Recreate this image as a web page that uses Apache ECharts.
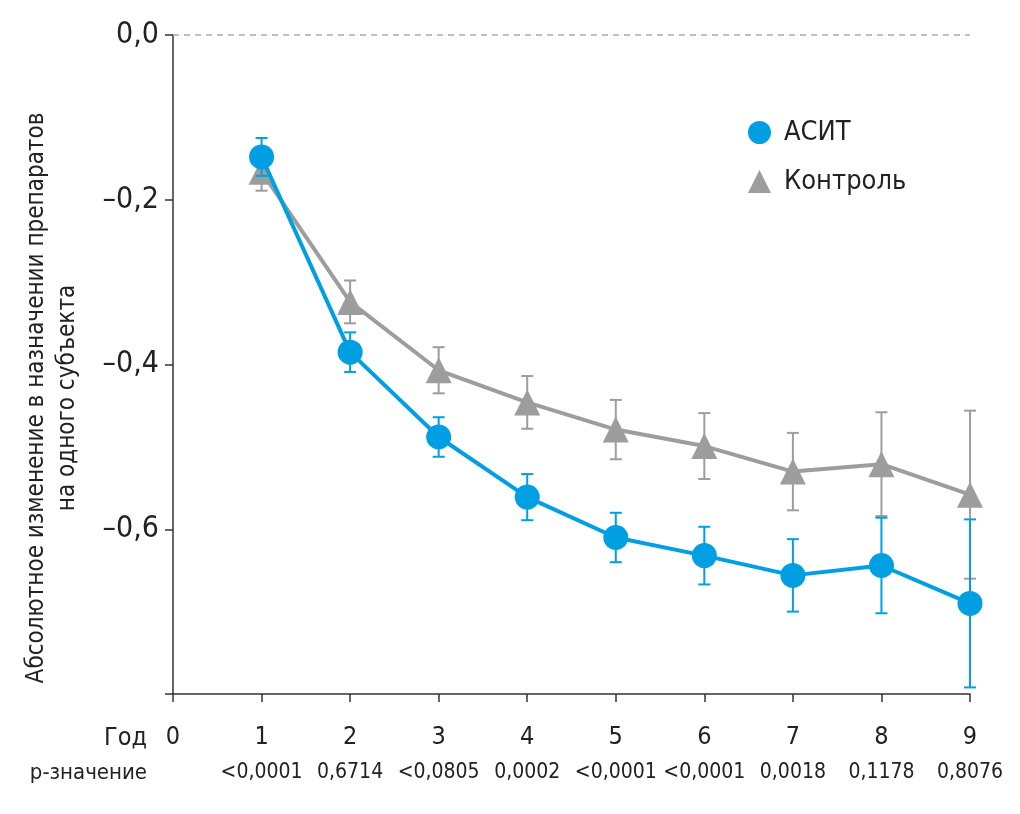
<!DOCTYPE html>
<html>
<head>
<meta charset="utf-8">
<script src="https://cdn.jsdelivr.net/npm/echarts@6/dist/echarts.min.js"></script>
<style>html,body{margin:0;padding:0;background:#fff;}#c{width:1020px;height:814px;}</style>
</head>
<body>
<div id="c"></div>
<script>
var years = [1, 2, 3, 4, 5, 6, 7, 8, 9];
var acit = [-0.148, -0.385, -0.488, -0.561, -0.610, -0.632, -0.656, -0.644, -0.690];
var acitErr = [0.023, 0.024, 0.024, 0.028, 0.030, 0.035, 0.044, 0.058, 0.102];
var control = [-0.166, -0.324, -0.407, -0.446, -0.479, -0.499, -0.530, -0.521, -0.558];
var controlErr = [0.023, 0.026, 0.028, 0.032, 0.036, 0.040, 0.047, 0.063, 0.102];
var pValues = ['<0,0001', '0,6714', '<0,0805', '0,0002', '<0,0001', '<0,0001', '0,0018', '0,1178', '0,8076'];
var yTitle = 'Абсолютное изменение в назначении препаратов\nна одного субъекта';

var FONT = "'Liberation Sans Narrow', 'DejaVu Sans Condensed', 'Roboto', sans-serif";
var BLUE = '#009fe3';
var GRAY = '#9d9d9d';
var TEXT = '#222';

function pts(vals) { return years.map(function (y, i) { return [y, vals[i]]; }); }
function errs(vals, e) { return years.map(function (y, i) { return [y, vals[i] - e[i], vals[i] + e[i]]; }); }

function errRender(color) {
  return function (params, api) {
    var x = api.value(0);
    var lo = api.coord([x, api.value(1)]);
    var hi = api.coord([x, api.value(2)]);
    var hw = 6;
    var st = { stroke: color, lineWidth: 2 };
    return {
      type: 'group',
      children: [
        { type: 'line', shape: { x1: lo[0], y1: lo[1], x2: hi[0], y2: hi[1] }, style: st },
        { type: 'line', shape: { x1: lo[0] - hw, y1: lo[1], x2: lo[0] + hw, y2: lo[1] }, style: st },
        { type: 'line', shape: { x1: hi[0] - hw, y1: hi[1], x2: hi[0] + hw, y2: hi[1] }, style: st }
      ]
    };
  };
}

var chart = echarts.init(document.getElementById('c'));
chart.setOption({
  animation: false,
  textStyle: { fontFamily: FONT },
  grid: { left: 173, right: 50, top: 35, bottom: 120, containLabel: false },
  legend: {
    orient: 'vertical',
    left: 743,
    top: 114,
    itemWidth: 23,
    itemHeight: 23,
    itemGap: 22,
    textStyle: { fontFamily: FONT, fontSize: 27, color: TEXT, padding: [0, 0, 0, 8] },
    data: [{ name: 'АСИТ', icon: 'circle' }, { name: 'Контроль', icon: 'triangle' }]
  },
  xAxis: {
    type: 'value',
    min: 0,
    max: 9,
    interval: 1,
    axisLine: { onZero: false, lineStyle: { color: '#333', width: 1.5 } },
    axisTick: { length: 8, lineStyle: { color: '#333', width: 1.5 } },
    splitLine: { show: false },
    axisLabel: {
      margin: 26,
      formatter: function (v) {
        var p = pValues[v - 1] || ' ';
        return '{y|' + v + '}\n{p|' + p + '}';
      },
      rich: {
        y: { fontFamily: FONT, fontSize: 25, color: TEXT, lineHeight: 35 },
        p: { fontFamily: FONT, fontSize: 21, color: TEXT, lineHeight: 35 }
      }
    }
  },
  yAxis: {
    type: 'value',
    min: -0.8,
    max: 0,
    interval: 0.2,
    axisLine: { show: true, lineStyle: { color: '#333', width: 1.5 } },
    axisTick: { show: true, length: 8, lineStyle: { color: '#333', width: 1.5 } },
    splitLine: { show: false },
    axisLabel: {
      margin: 14,
      fontFamily: FONT,
      fontSize: 30,
      color: TEXT,
      formatter: function (v) {
        if (v < -0.79) return '';
        var s = Math.abs(v).toFixed(1).replace('.', ',');
        return (v < -0.001 ? '–' : '') + s;
      }
    }
  },
  graphic: [
    { type: 'text', x: 147, y: 738, style: { text: 'Год', font: '25px ' + FONT, fill: TEXT, textAlign: 'right', textVerticalAlign: 'middle' } },
    { type: 'text', x: 147, y: 773, style: { text: 'p-значение', font: '22px ' + FONT, fill: TEXT, textAlign: 'right', textVerticalAlign: 'middle' } },
    { type: 'text', x: 52, y: 398, rotation: Math.PI / 2,
      style: { text: yTitle, font: '24px ' + FONT, fill: TEXT, textAlign: 'center', textVerticalAlign: 'middle', lineHeight: 31 } }
  ],
  series: [
    {
      name: 'errControl', type: 'custom', z: 1,
      renderItem: errRender(GRAY), data: errs(control, controlErr), encode: { x: 0, y: [1, 2] }
    },
    {
      name: 'Контроль', type: 'line', z: 2,
      data: pts(control),
      symbol: 'triangle', symbolSize: 26,
      itemStyle: { color: GRAY },
      lineStyle: { color: GRAY, width: 4 },
      markLine: {
        silent: true, symbol: 'none', label: { show: false },
        lineStyle: { color: '#aaa', type: [6, 5], width: 1.5 },
        data: [{ yAxis: 0 }]
      }
    },
    {
      name: 'errAcit', type: 'custom', z: 3,
      renderItem: errRender(BLUE), data: errs(acit, acitErr), encode: { x: 0, y: [1, 2] }
    },
    {
      name: 'АСИТ', type: 'line', z: 4,
      data: pts(acit),
      symbol: 'circle', symbolSize: 25,
      itemStyle: { color: BLUE },
      lineStyle: { color: BLUE, width: 4 }
    }
  ]
});
</script>
</body>
</html>
